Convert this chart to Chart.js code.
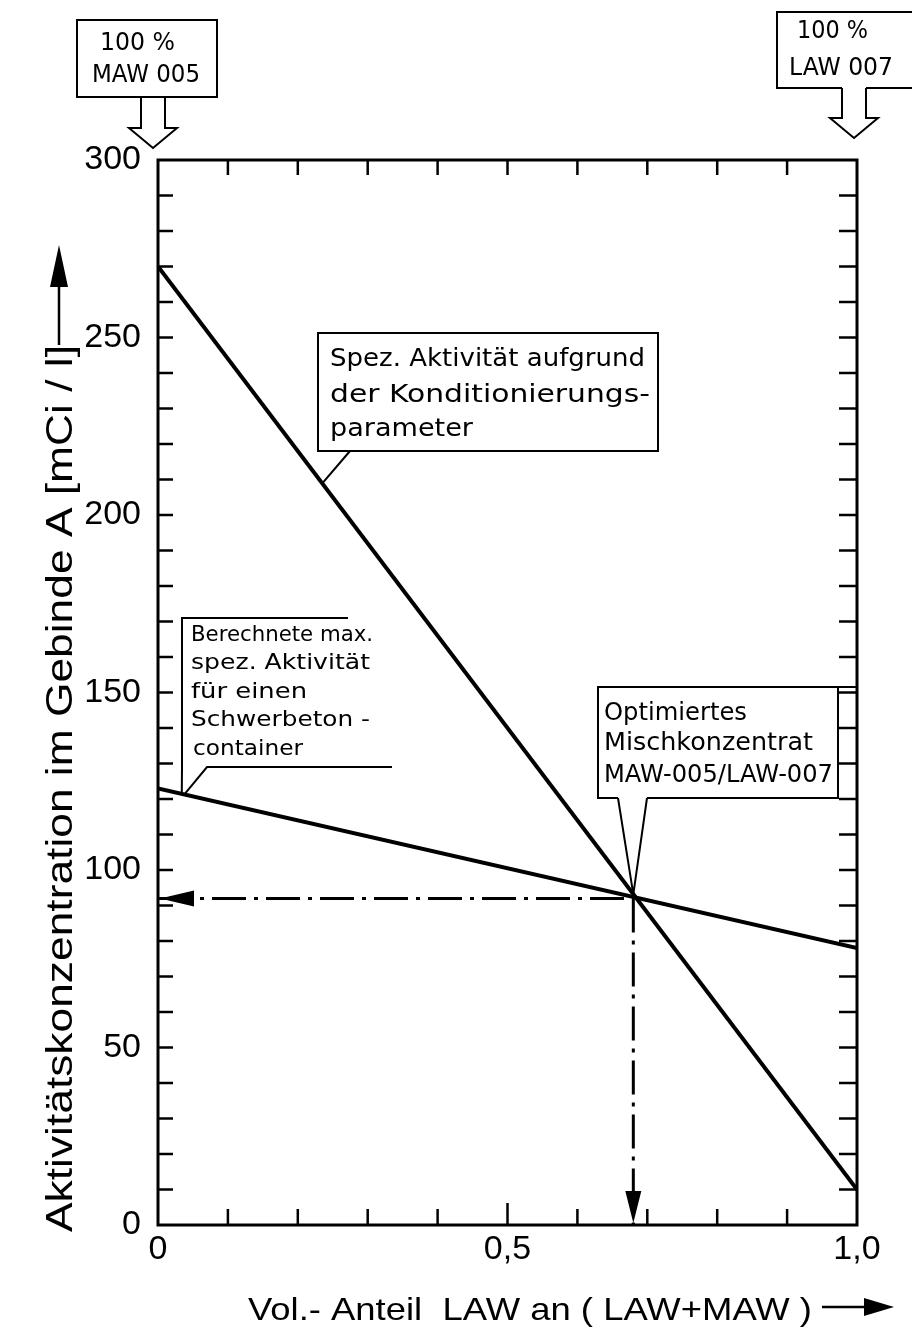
<!DOCTYPE html>
<html>
<head>
<meta charset="utf-8">
<script src="https://cdn.jsdelivr.net/npm/chart.js@4"></script>
<style>
  html, body { margin: 0; padding: 0; background: #fff; }
</style>
</head>
<body>
<canvas id="chart" width="912" height="1334"></canvas>
<script>
// volume share of LAW in (LAW+MAW)
const shareLaw = [0, 1.0];
// Spez. Aktivität aufgrund der Konditionierungsparameter [mCi/l]
const specActivity = [270, 10];
// Berechnete max. spez. Aktivität für einen Schwerbetoncontainer [mCi/l]
const containerMax = [123, 78];
// optimised mix MAW-005/LAW-007
const optimumX = [0.68];
const optimumY = [92];
const xTickLabels = { 0: "0", 5: "0,5", 10: "1,0" };

const FONT = "'Liberation Sans', Arial, sans-serif";
const NOTE = "'DejaVu Sans', sans-serif";

function fitText(ctx, s, x, y, w, font) {
  ctx.font = font;
  let m = ctx.measureText(s).width;
  ctx.save();
  ctx.translate(x, y);
  ctx.scale(w / m, 1);
  ctx.fillText(s, 0, 0);
  ctx.restore();
}

function line(ctx, pts) {
  ctx.beginPath();
  ctx.moveTo(pts[0][0], pts[0][1]);
  for (let i = 1; i < pts.length; i++) ctx.lineTo(pts[i][0], pts[i][1]);
  ctx.stroke();
}

function fillPoly(ctx, pts) {
  ctx.beginPath();
  ctx.moveTo(pts[0][0], pts[0][1]);
  for (let i = 1; i < pts.length; i++) ctx.lineTo(pts[i][0], pts[i][1]);
  ctx.closePath();
  ctx.fill();
}

// hollow arrow pointing down, tip at (x, y)
function hollowArrow(ctx, x, y, top) {
  let p = [[x - 12, top], [x - 12, y - 20], [x - 24, y - 20], [x, y],
           [x + 24, y - 20], [x + 12, y - 20], [x + 12, top]];
  line(ctx, p);
}

const paper = {
  id: "paper",
  afterDraw(chart) {
    let ctx = chart.ctx;
    let a = chart.chartArea;
    let xs = chart.scales.x, ys = chart.scales.y;
    ctx.save();
    ctx.strokeStyle = "#000";
    ctx.fillStyle = "#000";
    ctx.lineCap = "butt";

    // frame
    ctx.lineWidth = 3;
    ctx.strokeRect(a.left, a.top, a.right - a.left, a.bottom - a.top);

    // inward ticks
    ctx.lineWidth = 2.5;
    xs.ticks.forEach(t => {
      let k = Math.round(t.value * 10);
      if (k <= 0 || k >= 10) return;
      let px = xs.getPixelForValue(t.value);
      line(ctx, [[px, a.bottom], [px, a.bottom - (k === 5 ? 22 : 16)]]);
      line(ctx, [[px, a.top], [px, a.top + 15]]);
    });
    ys.ticks.forEach(t => {
      if (t.value <= 0 || t.value >= 300) return;
      let py = ys.getPixelForValue(t.value);
      line(ctx, [[a.left, py], [a.left + 15, py]]);
      line(ctx, [[a.right, py], [a.right - 18, py]]);
    });

    // arrowheads of the dash-dot guides
    let ox = xs.getPixelForValue(optimumX[0]);
    let oy = ys.getPixelForValue(optimumY[0]);
    fillPoly(ctx, [[a.left + 2, oy], [a.left + 36, oy - 8], [a.left + 36, oy + 8]]);
    fillPoly(ctx, [[ox, a.bottom - 2], [ox - 8, a.bottom - 34], [ox + 8, a.bottom - 34]]);

    // callouts
    ctx.lineWidth = 2;
    ctx.textBaseline = "alphabetic";
    ctx.textAlign = "left";

    // box 1
    let x1 = 0.235;
    let p1 = [xs.getPixelForValue(x1), ys.getPixelForValue(specActivity[0] + (specActivity[1] - specActivity[0]) * x1)];
    ctx.strokeRect(318, 333, 340, 118);
    line(ctx, [[350, 451], p1]);
    fitText(ctx, "Spez. Aktivität aufgrund", 330, 366, 315, "25px " + NOTE);
    fitText(ctx, "der Konditionierungs-", 330, 402, 320, "25px " + NOTE);
    fitText(ctx, "parameter", 330, 436, 143, "25px " + NOTE);

    // box 2
    let x2 = 0.034;
    let p2 = [xs.getPixelForValue(x2), ys.getPixelForValue(containerMax[0] + (containerMax[1] - containerMax[0]) * x2)];
    line(ctx, [[348, 618], [182, 618], [182, 767]]);
    line(ctx, [[182, 767], p2]);
    line(ctx, [[p2[0] + 3, p2[1]], [207, 767], [392, 767]]);
    fitText(ctx, "Berechnete max.", 191, 641, 182, "21px " + NOTE);
    fitText(ctx, "spez. Aktivität", 191, 669, 179, "21px " + NOTE);
    fitText(ctx, "für einen", 191, 698, 116, "21px " + NOTE);
    fitText(ctx, "Schwerbeton -", 191, 726, 179, "21px " + NOTE);
    fitText(ctx, "container", 193, 755, 110, "21px " + NOTE);

    // box 3
    line(ctx, [[618, 798], [598, 798], [598, 687], [a.right, 687]]);
    line(ctx, [[838, 687], [838, 798], [647, 798]]);
    line(ctx, [[618, 798], [ox, oy - 4], [647, 798]]);
    fitText(ctx, "Optimiertes", 604, 720, 143, "24px " + NOTE);
    fitText(ctx, "Mischkonzentrat", 604, 750, 209, "24px " + NOTE);
    fitText(ctx, "MAW-005/LAW-007", 604, 782, 229, "24px " + NOTE);

    // 100 % markers above the plot
    let l0 = xs.getPixelForValue(0) - 5;
    ctx.strokeRect(77, 20, 140, 77);
    hollowArrow(ctx, l0, a.top - 12, 97);
    fitText(ctx, "100 %", 100, 50, 75, "24px " + NOTE);
    fitText(ctx, "MAW 005", 92, 82, 108, "24px " + NOTE);

    let l1 = xs.getPixelForValue(1) - 3;
    line(ctx, [[912, 12], [777, 12], [777, 88], [l1 - 12, 88]]);
    line(ctx, [[l1 + 12, 88], [912, 88]]);
    hollowArrow(ctx, l1, a.top - 22, 88);
    fitText(ctx, "100 %", 797, 38, 71, "24px " + NOTE);
    fitText(ctx, "LAW 007", 789, 75, 104, "24px " + NOTE);

    // axis titles with arrows
    ctx.save();
    ctx.translate(72, 1232);
    ctx.rotate(-Math.PI / 2);
    fitText(ctx, "Aktivitätskonzentration im Gebinde A [mCi / l]", 0, 0, 887, "36px " + FONT);
    ctx.restore();
    ctx.lineWidth = 2.5;
    line(ctx, [[59, 345], [59, 285]]);
    fillPoly(ctx, [[59, 245], [50, 287], [68, 287]]);

    fitText(ctx, "Vol.- Anteil  LAW an ( LAW+MAW )", 248, 1320, 564, "32px " + FONT);
    line(ctx, [[822, 1307], [866, 1307]]);
    fillPoly(ctx, [[894, 1307], [864, 1298], [864, 1316]]);

    ctx.restore();
  }
};

new Chart(document.getElementById("chart"), {
  type: "line",
  data: {
    datasets: [
      {
        data: shareLaw.map((x, i) => ({ x: x, y: specActivity[i] })),
        borderColor: "#000", borderWidth: 4, pointRadius: 0
      },
      {
        data: shareLaw.map((x, i) => ({ x: x, y: containerMax[i] })),
        borderColor: "#000", borderWidth: 4, pointRadius: 0
      },
      {
        data: [{ x: 0, y: optimumY[0] }, { x: optimumX[0], y: optimumY[0] }],
        borderColor: "#000", borderWidth: 3, pointRadius: 0, borderDash: [34, 8, 4, 8]
      },
      {
        data: [{ x: optimumX[0], y: optimumY[0] }, { x: optimumX[0], y: 0 }],
        borderColor: "#000", borderWidth: 3, pointRadius: 0, borderDash: [34, 8, 4, 8]
      }
    ]
  },
  options: {
    responsive: false,
    animation: false,
    layout: { padding: { left: 0, top: 160, right: 55, bottom: 0 } },
    plugins: { legend: { display: false }, tooltip: { enabled: false } },
    scales: {
      x: {
        type: "linear", min: 0, max: 1,
        afterFit: s => { s.height = 109; },
        grid: { display: false, drawTicks: false },
        border: { display: false },
        ticks: {
          stepSize: 0.1, autoSkip: false, maxRotation: 0, padding: 4,
          color: "#000", font: { family: FONT, size: 34 },
          callback: v => xTickLabels[Math.round(v * 10)] || ""
        }
      },
      y: {
        min: 0, max: 300,
        afterFit: s => { s.width = 158; },
        grid: { display: false, drawTicks: false },
        border: { display: false },
        ticks: {
          stepSize: 10, autoSkip: false, padding: 17,
          color: "#000", font: { family: FONT, size: 34 },
          callback: v => (v % 50 === 0 ? String(v) : "")
        }
      }
    }
  },
  plugins: [paper]
});
</script>
</body>
</html>
